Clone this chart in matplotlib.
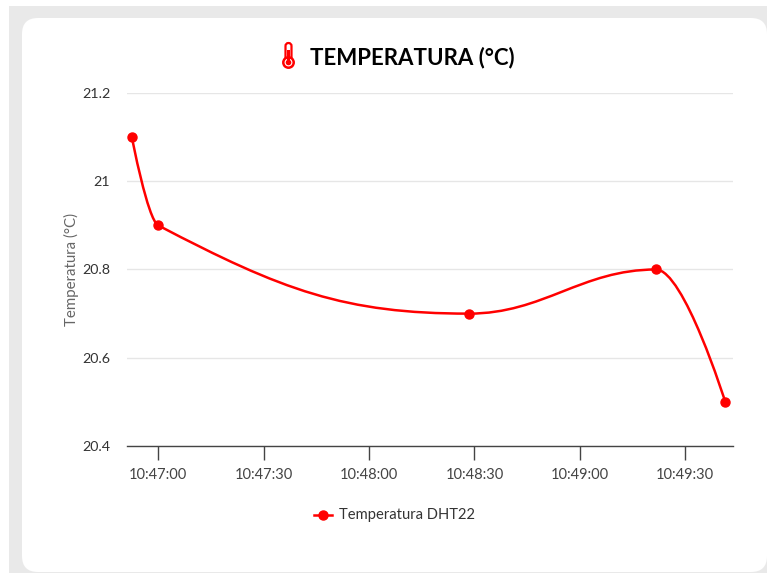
import matplotlib
matplotlib.use("Agg")
import matplotlib.pyplot as plt
from matplotlib.patches import FancyBboxPatch, Rectangle, Circle, PathPatch
from matplotlib.path import Path

W, H = 767, 573
seconds = [-7.5, 0.0, 88.4, 141.7, 161.4]
temps = [21.1, 20.9, 20.7, 20.8, 20.5]
yticks = [20.4, 20.6, 20.8, 21.0, 21.2]
ylabels = ["20.4", "20.6", "20.8", "21", "21.2"]
xticks = [0, 30, 60, 90, 120, 150]
xlabels = ["10:47:00", "10:47:30", "10:48:00", "10:48:30", "10:49:00", "10:49:30"]
TITLE = "TEMPERATURA (°C)"
YTITLE = "Temperatura (°C)"
SERIES = "Temperatura DHT22"

plt.rcParams['font.family'] = ['Lato', 'DejaVu Sans']
fig = plt.figure(figsize=(W/100, H/100), dpi=100, facecolor='white')

bg = fig.add_axes([0, 0, 1, 1], zorder=0)
bg.set_xlim(0, W); bg.set_ylim(H, 0); bg.axis('off')
bg.add_patch(Rectangle((9, 6), W-9, H-6, fc='#e9e9e9', ec='none'))
bg.add_patch(FancyBboxPatch((22+16, 18+16), 745-32, 554-32,
             boxstyle="round,pad=16,rounding_size=16", fc='white', ec='none'))

# thermometer icon
tx = 288.5
bg.add_patch(FancyBboxPatch((tx-2.0, 44), 4.0, 18, boxstyle="round,pad=1.0,rounding_size=3",
             fc='white', ec='#ff0000', lw=1.6))
bg.add_patch(Circle((tx, 62.5), 5.2, fc='white', ec='#ff0000', lw=1.8))
bg.add_patch(Circle((tx, 62.5), 2.8, fc='#ff0000', ec='none'))
bg.add_patch(Rectangle((tx-1.1, 50), 2.2, 12, fc='#ff0000', ec='none'))
bg.text(310, 57.5, TITLE, fontsize=16, fontweight='bold', color='black', ha='left', va='center')

L, R, T, B = 127, 733, 93, 446
ax = fig.add_axes([L/W, 1-B/H, (R-L)/W, (B-T)/H], zorder=1)
ax.patch.set_alpha(0)
PX = 105.4/30
X0 = 158.2
ax.set_xlim((L-X0)/PX, (R-X0)/PX)
ax.set_ylim(20.4, 21.2)
for s in ['top', 'left', 'right']:
    ax.spines[s].set_visible(False)
ax.spines['bottom'].set_color('#444444')
ax.spines['bottom'].set_linewidth(1)
ax.set_yticks(yticks, ylabels, fontsize=10.3, color='#333333')
ax.set_xticks(xticks, xlabels, fontsize=10.5, color='#444444')
ax.tick_params(axis='y', length=0, pad=12)
ax.tick_params(axis='x', length=10, width=1, color='#444444', pad=6)
ax.grid(axis='y', color='#e6e6e6', lw=1)
ax.set_axisbelow(True)
ax.set_ylabel(YTITLE, fontsize=10.8, color='#666666', labelpad=0)
ax.yaxis.set_label_coords((79-L)/(R-L), 0.5)

def spline_path(xs, ys, k=1.5):
    verts = [(xs[0], ys[0])]; codes = [Path.MOVETO]
    n = len(xs)
    conts = []
    for i in range(n):
        if i == 0 or i == n-1:
            conts.append((xs[i], ys[i], xs[i], ys[i]))
            continue
        lx = (k*xs[i]+xs[i-1])/(k+1); ly = (k*ys[i]+ys[i-1])/(k+1)
        rx = (k*xs[i]+xs[i+1])/(k+1); ry = (k*ys[i]+ys[i+1])/(k+1)
        c = (ry-ly)*(rx-xs[i])/(rx-lx) + ys[i] - ry
        ly += c; ry += c
        if ly > ys[i-1] and ly > ys[i]:
            ly = max(ys[i-1], ys[i]); ry = 2*ys[i]-ly
        elif ly < ys[i-1] and ly < ys[i]:
            ly = min(ys[i-1], ys[i]); ry = 2*ys[i]-ly
        if ry > ys[i+1] and ry > ys[i]:
            ry = max(ys[i+1], ys[i]); ly = 2*ys[i]-ry
        elif ry < ys[i+1] and ry < ys[i]:
            ry = min(ys[i+1], ys[i]); ly = 2*ys[i]-ry
        conts.append((lx, ly, rx, ry))
    for i in range(1, n):
        verts += [(conts[i-1][2], conts[i-1][3]), (conts[i][0], conts[i][1]), (xs[i], ys[i])]
        codes += [Path.CURVE4]*3
    return Path(verts, codes)

ax.add_patch(PathPatch(spline_path(seconds, temps), fc='none', ec='#ff0000', lw=1.8, clip_on=False, zorder=3))
ax.plot(seconds, temps, ls='none', marker='o', ms=6.5, color='#ff0000', mec='#ff0000', clip_on=False, zorder=4)

bg.plot([314, 332], [514.5, 514.5], color='#ff0000', lw=1.8)
bg.plot([323], [514.5], marker='o', ms=6.5, color='#ff0000')
bg.text(339, 515, SERIES, fontsize=10.6, color='#333333', ha='left', va='center')
bg.set_xlim(0, W); bg.set_ylim(H, 0)

fig.savefig('out.png', dpi=100)
